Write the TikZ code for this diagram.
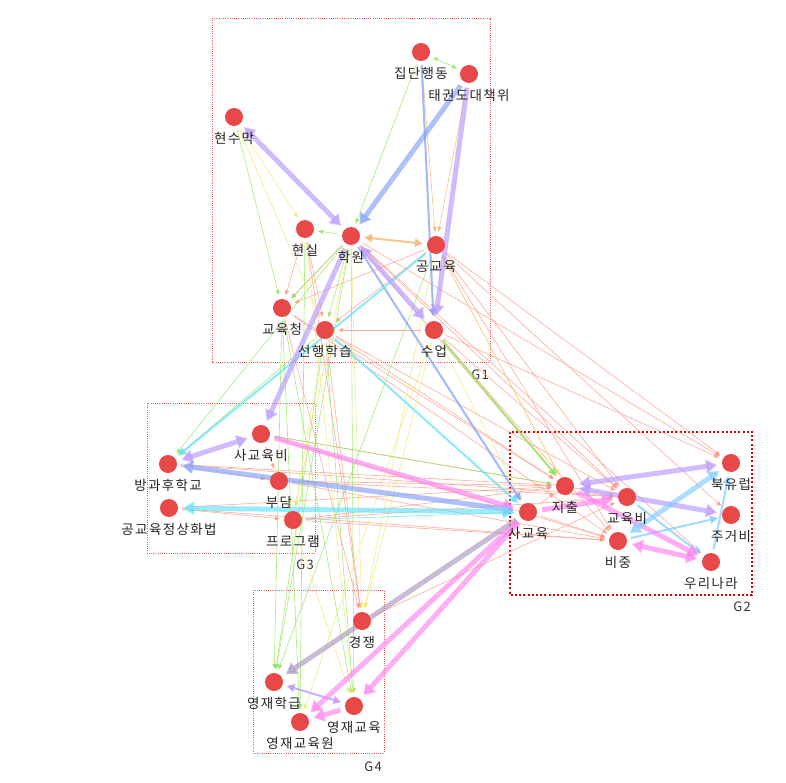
\documentclass[tikz,border=0pt]{standalone}
\usepackage{fontspec}
\setmainfont[LetterSpace=10]{Noto Sans CJK KR}
\usetikzlibrary{arrows.meta, backgrounds}

\definecolor{vtxred}{RGB}{232,72,72}
\definecolor{boxred}{RGB}{240,90,90}
\definecolor{lnsalmon}{RGB}{255,150,130}
\definecolor{lngreen}{RGB}{140,230,90}
\definecolor{lnyellow}{RGB}{240,230,110}
\definecolor{lnorange}{RGB}{245,180,100}
\definecolor{lnpurple}{RGB}{185,150,255}
\definecolor{lnblue}{RGB}{130,160,250}
\definecolor{lncyan}{RGB}{100,225,250}
\definecolor{lnsky}{RGB}{130,205,255}
\definecolor{lnpink}{RGB}{255,130,240}
\definecolor{lngray}{RGB}{170,150,190}

\tikzset{
  vtx/.style={circle, fill=vtxred, minimum size=18pt, inner sep=0pt, label={[lbl]below:#1}},
  lbl/.style={font=\fontsize{13.5}{15}\selectfont, text=black!85, label distance=5pt, inner sep=1pt},
  grp/.style={draw=boxred, line width=0.7pt, dash pattern=on 1pt off 1.2pt},
  grpbold/.style={draw=red!85!black, line width=2.2pt, dash pattern=on 2pt off 2.2pt},
  glbl/.style={font=\fontsize{13}{15}\selectfont, text=black!80},
  thinedge/.style={draw=#1, line width=0.6pt, >={Triangle[length=5pt,width=4pt]}, shorten >=4pt, shorten <=4pt, opacity=0.8},
  midedge/.style={draw=#1, line width=2pt, >={Triangle[length=8pt,width=8pt]}, shorten >=4pt, shorten <=4pt, opacity=0.75},
  thickedge/.style={draw=#1, line width=5pt, >={Triangle[length=11pt,width=13pt]}, shorten >=5pt, shorten <=5pt, opacity=0.65},
}

\begin{document}
\begin{tikzpicture}[x=1pt, y=-1pt]
\useasboundingbox (0,0) rectangle (786,783);

% G1
\node[vtx=집단행동] (jd) at (421,52) {};
\node[vtx=태권도대책위] (tk) at (469,74) {};
\node[vtx=현수막] (hsm) at (234,117) {};
\node[vtx=현실] (hs) at (305,229) {};
\node[vtx=학원] (hw) at (351,236) {};
\node[vtx=공교육] (gg) at (436,245) {};
\node[vtx=교육청] (gyc) at (282,308) {};
\node[vtx=선행학습] (shh) at (325,330) {};
\node[vtx=수업] (su) at (434,330) {};
% G3
\node[vtx=사교육비] (sgb) at (261,434) {};
\node[vtx=방과후학교] (bgh) at (168,464) {};
\node[vtx=부담] (bd) at (279,481) {};
\node[vtx=공교육정상화법] (gjh) at (169,508) {};
\node[vtx=프로그램] (pg) at (293,520) {};
% G2
\node[vtx=지출] (jc) at (565,486) {};
\node[vtx=사교육] (sg) at (528,512) {};
\node[vtx=교육비] (gyb) at (627,497) {};
\node[vtx=비중] (bj) at (618,541) {};
\node[vtx=북유럽] (by) at (731,463) {};
\node[vtx=주거비] (jgb) at (731,515) {};
\node[vtx=우리나라] (wr) at (711,562) {};
% G4
\node[vtx=경쟁] (gj) at (362,621) {};
\node[vtx=영재학급] (yh) at (274,682) {};
\node[vtx=영재교육] (ye) at (354,706) {};
\node[vtx=영재교육원] (yw) at (300,722) {};

\begin{scope}[on background layer]
% groups
\draw[grp] (212,18) rectangle (490,362);
\node[glbl] (g1) at (480,375) {G1};
\draw[grp] (147,403) rectangle (315,553);
\node[glbl] (g3) at (305,565) {G3};
\draw[grpbold] (510,432) rectangle (752,595);
\node[glbl] (g2) at (742,607) {G2};
\draw[grp] (253,590) rectangle (384,753);
\node[glbl] (g4) at (373,767) {G4};

% thin links
\foreach \a/\b in {hs/gyc, hs/shh, hw/gyc, gg/shh, gg/gyc, su/shh, gg/jc, gg/gyb, gg/by,
    gg/jgb, su/gyb, su/bj, hw/jc, hw/gyb, shh/jc, shh/gyb, gyc/jc, gyc/bj, sgb/gyb,
    bd/jc, bd/bj, pg/jc, bgh/jc, gjh/jc, gjh/bj, bgh/bd, sgb/bd, gjh/pg, hw/by,
    shh/gj, gyc/gj, hs/gj, sg/jc, sg/bj, hw/wr, gg/bj, pg/gyb, bd/gyb, gj/gyb, su/by,
    sgb/bj, bgh/gyb, pg/bj}
  \draw[thinedge=lnsalmon, ->] (\a) -- (\b);
\foreach \a/\b in {hsm/gyc, hw/shh, hw/gyc, hw/bgh, hw/yh, gyc/yh, gyc/yw, shh/yh,
    shh/ye, hw/ye, hs/yw, gyc/ye, jd/hw, hw/hs, sgb/jc, shh/bgh, gg/yh}
  \draw[thinedge=lngreen, ->] (\a) -- (\b);
\foreach \a/\b in {hsm/hs, hsm/shh, hw/pg, shh/pg, gg/gj, su/gj, su/yw, hw/gj,
    hs/ye, su/sg, gg/jc, bd/ye}
  \draw[thinedge=lnyellow, ->] (\a) -- (\b);
\foreach \a/\b in {jd/gg, tk/gg}
  \draw[thinedge=lnorange, ->] (\a) -- (\b);
\draw[thinedge=lngreen, <->] (jd) -- (tk);
\draw[thinedge=lncyan, ->] (pg) -- (sg);

% medium links
\draw[midedge=lnorange, <->] (hw) -- (gg);
\draw[midedge=lngreen, ->] (su) -- (jc);
\draw[midedge=lnblue, ->] (jd) -- (su);
\draw[midedge=lnblue, ->] (hw) -- (sg);
\draw[midedge=lncyan, ->] (shh) -- (sg);
\draw[midedge=lncyan, ->] (gg) -- (bgh);
\draw[midedge=lnpurple, <->] (yh) -- (ye);
\draw[midedge=lnsky, ->] (bj) -- (jgb);
\draw[midedge=lnsky, ->] (gyb) -- (wr);
\draw[midedge=lnsky, ->] (wr) -- (by);

% thick links
\draw[thickedge=lnpurple, <->] (hsm) -- (hw);
\draw[thickedge=lnpurple, <->] (hw) -- (su);
\draw[thickedge=lnpurple, ->] (tk) -- (su);
\draw[thickedge=lnblue, ->] (tk) -- (hw);
\draw[thickedge=lnpurple, ->] (hw) -- (sgb);
\draw[thickedge=lnpurple, <->] (sgb) -- (bgh);
\draw[thickedge=lnblue, <->] (sg) -- (bgh);
\draw[thickedge=lnpink, ->] (sgb) -- (sg);
\draw[thickedge=lncyan, <->] (gjh) -- (sg);
\draw[thickedge=lngray, ->] (sg) -- (yh);
\draw[thickedge=lnpink, ->] (sg) -- (ye);
\draw[thickedge=lnpink, ->] (sg) -- (yw);
\draw[thickedge=lnpink, ->] (ye) -- (yw);
\draw[thickedge=lnpink, ->] (sg) -- (gyb);
\draw[thickedge=lnpurple, <->] (jc) -- (by);
\draw[thickedge=lnpurple, <->] (jc) -- (jgb);
\draw[thickedge=lnpink, ->] (jc) -- (wr);
\draw[thickedge=lnpink, <->] (bj) -- (wr);
\draw[thickedge=lnsky, <->] (bj) -- (by);
\end{scope}
\end{tikzpicture}
\end{document}
